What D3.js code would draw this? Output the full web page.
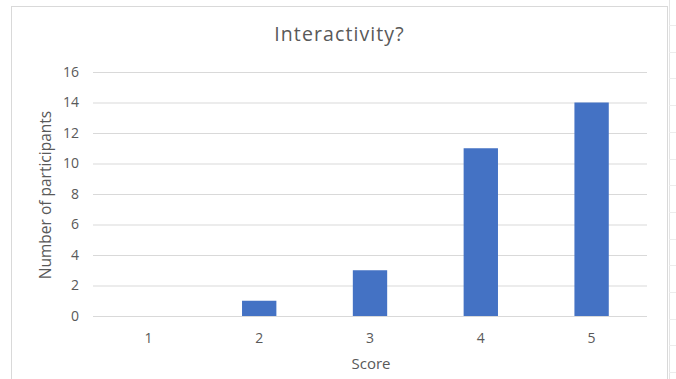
<!DOCTYPE html>
<html>
<head>
<meta charset="utf-8">
<script src="https://cdn.jsdelivr.net/npm/d3@7"></script>
<style>
  html, body { margin: 0; padding: 0; background: #fff; }
  svg { display: block; font-family: "Open Sans", Lato, sans-serif; }
</style>
</head>
<body>
<svg id="chart" width="676" height="379"></svg>
<script>
// Survey results: how many participants gave each interactivity score
const categories = ["1", "2", "3", "4", "5"];
const participants = [0, 1, 3, 11, 14];
const yTicks = [0, 2, 4, 6, 8, 10, 12, 14, 16];

const title = "Interactivity?";
const xTitle = "Score";
const yTitle = "Number of participants";

const svg = d3.select("#chart");
const W = 676, H = 379;
const plot = { left: 93, right: 647, top: 72, bottom: 316 };
const textColor = "#595959";
const font = "'Open Sans', Lato, sans-serif";

// Chart area frame
svg.append("rect")
  .attr("x", 11.5).attr("y", 6.5)
  .attr("width", 656).attr("height", H)
  .attr("fill", "#fff").attr("stroke", "#d9d9d9");

// Faint sheet grid on the right edge
svg.append("line")
  .attr("x1", 669.5).attr("x2", 669.5).attr("y1", 0).attr("y2", H)
  .attr("stroke", "#e4e4e4");
d3.range(25, H, 26.7).forEach(yy => {
  svg.append("line")
    .attr("x1", 669).attr("x2", 676).attr("y1", Math.round(yy) + 0.5).attr("y2", Math.round(yy) + 0.5)
    .attr("stroke", "#ececec");
});

const x = d3.scaleBand().domain(categories).range([plot.left, plot.right]).paddingInner(0.69).paddingOuter(0.345);
const y = d3.scaleLinear().domain([0, 16]).range([plot.bottom, plot.top]);

// Horizontal gridlines with value labels
const yAxis = d3.axisLeft(y).tickValues(yTicks).tickSize(-(plot.right - plot.left)).tickPadding(14);
const gy = svg.append("g").attr("transform", `translate(${plot.left},0)`).call(yAxis);
gy.select(".domain").remove();
gy.selectAll(".tick line").attr("stroke", "#d9d9d9");
gy.selectAll(".tick text")
  .attr("fill", textColor).attr("font-size", 14)
  .attr("font-family", font);

// Bars
svg.append("g").selectAll("rect")
  .data(categories.map((c, i) => ({ c, v: participants[i] })))
  .join("rect")
  .attr("x", d => x(d.c))
  .attr("width", x.bandwidth())
  .attr("y", d => y(d.v))
  .attr("height", d => y(0) - y(d.v))
  .attr("fill", "#4472c4");

// Category axis
const xAxis = d3.axisBottom(x).tickSize(0).tickPadding(17);
const gx = svg.append("g").attr("transform", `translate(0,${plot.bottom})`).call(xAxis);
gx.select(".domain").remove();
gx.selectAll(".tick text")
  .attr("fill", textColor).attr("font-size", 14)
  .attr("font-family", font);

// Titles
svg.append("text")
  .attr("x", 339.5).attr("y", 41)
  .attr("text-anchor", "middle")
  .attr("fill", textColor).attr("font-size", 19.5)
  .attr("letter-spacing", 1.1)
  .text(title);

svg.append("text")
  .attr("x", 371).attr("y", 369)
  .attr("text-anchor", "middle")
  .attr("fill", textColor).attr("font-size", 15)
  .text(xTitle);

svg.append("text")
  .attr("transform", `translate(51,195) rotate(-90)`)
  .attr("text-anchor", "middle")
  .attr("fill", textColor).attr("font-size", 15.5)
  .text(yTitle);
</script>
</body>
</html>
